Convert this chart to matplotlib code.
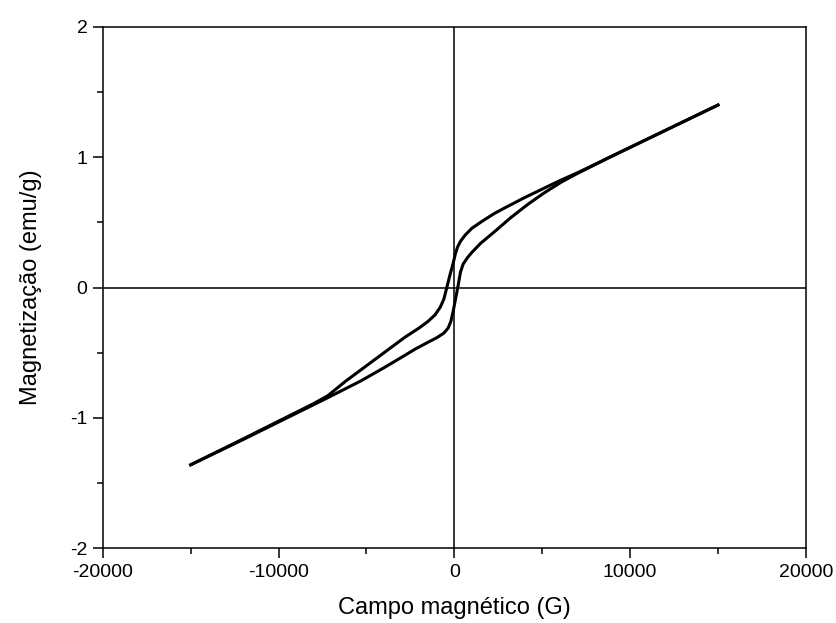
import matplotlib
matplotlib.use("Agg")
import matplotlib.pyplot as plt
from matplotlib.ticker import MultipleLocator

plt.rcParams['font.family'] = ['Liberation Sans', 'DejaVu Sans']
plt.rcParams['axes.unicode_minus'] = False

# descending branch (field from +15000 down to -15000)
h_down = [15000, 12000, 9000, 7000, 6000, 5000, 4000, 3000, 2300, 1600, 1000, 600,
          350, 180, 60, 0, -100, -250, -430, -600, -800, -1100, -1500, -2000,
          -2800, -3400, -4300, -5300, -6200, -7200, -8000, -10000, -12000, -15000]
m_down = [1.40, 1.205, 1.01, 0.88, 0.82, 0.755, 0.69, 0.62, 0.57, 0.51, 0.455, 0.40,
          0.355, 0.31, 0.26, 0.225, 0.17, 0.097, 0.0, -0.09, -0.15, -0.21, -0.26, -0.31,
          -0.38, -0.44, -0.53, -0.63, -0.72, -0.83, -0.89, -1.025, -1.16, -1.36]

# ascending branch (field from -15000 up to +15000)
h_up = [-15000, -12000, -9000, -7200, -5300, -4000, -3000, -2200, -1500, -1000, -600,
        -350, -200, -80, 50, 150, 220, 350, 500, 750, 1000, 1500, 2300, 3200, 4200,
        5100, 6100, 7000, 9000, 12000, 15000]
m_up = [-1.36, -1.165, -0.965, -0.845, -0.715, -0.615, -0.535, -0.47, -0.42, -0.385, -0.35,
        -0.31, -0.26, -0.19, -0.10, -0.03, 0.02, 0.12, 0.18, 0.23, 0.27, 0.34, 0.43, 0.535, 0.64,
        0.725, 0.81, 0.875, 1.01, 1.205, 1.40]

fig = plt.figure(figsize=(8.36, 6.23), dpi=100)
ax = fig.add_axes([0.123, 0.120, 0.841, 0.837])

ax.axhline(0, color='black', lw=1.1, zorder=1)
ax.axvline(0, color='black', lw=1.1, zorder=1)

ax.plot(h_down, m_down, color='black', lw=2.2, zorder=3, solid_joinstyle='round')
ax.plot(h_up, m_up, color='black', lw=2.2, zorder=3, solid_joinstyle='round')

ax.set_xlim(-20000, 20000)
ax.set_ylim(-2, 2)
ax.xaxis.set_major_locator(MultipleLocator(10000))
ax.xaxis.set_minor_locator(MultipleLocator(5000))
ax.yaxis.set_major_locator(MultipleLocator(1))
ax.yaxis.set_minor_locator(MultipleLocator(0.5))
ax.tick_params(which='both', direction='out', top=False, right=False,
               width=1.1, labelsize=14)
ax.tick_params(which='major', length=7, pad=4)
ax.tick_params(which='minor', length=4)
for s in ax.spines.values():
    s.set_linewidth(1.1)

ax.set_xlabel("Campo magnético (G)", fontsize=17, labelpad=12)
ax.set_ylabel("Magnetização (emu/g)", fontsize=17, labelpad=20)

fig.savefig("out.png", dpi=100)
